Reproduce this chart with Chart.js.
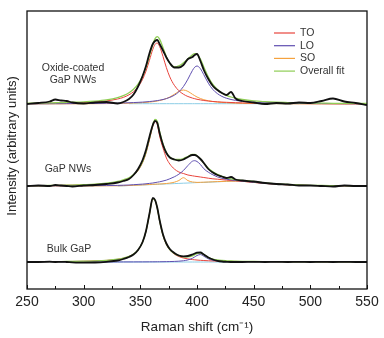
<!DOCTYPE html>
<html>
<head>
<meta charset="utf-8">
<script src="https://cdn.jsdelivr.net/npm/chart.js@4"></script>
<style>
  html, body { margin: 0; padding: 0; background: #fff; }
  #wrap { width: 384px; height: 338px; }
</style>
</head>
<body>
<div id="wrap"><canvas id="c"></canvas></div>
<script>
// Raman shift grid (cm-1), shared by every curve
const ramanShift = [250,260,270,275,280,285,290,300,310,320,330,335,340,344,348,352,355,358,361,363,365,367,370,373,376,380,384,388,392,396,398,400,403,406,410,414,418,422,426,430,434,440,450,460,470,480,490,500,510,520,530,540,550];

// vertical offsets of the three stacked spectra (arbitrary units)
const offsetOxide = 185;
const offsetNW = 103;
const offsetBulk = 27;

// Oxide-coated GaP NWs
const oxideData = [0,1,2.5,4.5,3.5,3,1.5, 0.5,1.5,2,0.5,2, 5,9.5,17.5,28,38, 50.5,60,63,64,60, 53.5,46.5,41,36.5,36.5, 39,45,47,49, 50,43,34,25, 18,14,11,9,12, 5.5,3,1.5,0,1, 0.5,1.5,1,3,5.5, 2.5,1,-1];
const oxideTO = [0.5,0.6,0.7,0.8,0.9,1.0,1.1, 1.5,2.1,3.1,5.0,6.6, 9.2,12.3,17.1,24.7,33, 43.6,54.7,59.7,60.9,57.6, 47.5,36.3,27.1,18.7,13.3, 9.8,7.5,5.9,5.3, 4.7,4.1,3.5,3.0, 2.5,2.2,1.9,1.7,1.5, 1.3,1.1,0.9,0.7,0.6, 0.5,0.4,0.35,0.3,0.25, 0.2,0.2,0.2];
const oxideLO = [0.2,0.2,0.25,0.3,0.3,0.35,0.4, 0.45,0.55,0.7,0.9,1.05, 1.25,1.45,1.65,1.9,2.15, 2.45,2.8,3.1,3.4,3.8, 4.5,5.4,6.6,8.8,12.2, 17.4,24.9,33.6,36.8, 38,35.3,29.3,20.8, 14.5,10.4,7.6,5.75,4.5, 3.6,2.7,1.75,1.25,0.9, 0.7,0.55,0.45,0.4,0.35, 0.3,0.25,0.2];
const oxideSO = [0.1,0.1,0.15,0.15,0.15,0.2,0.2, 0.25,0.3,0.4,0.55,0.7, 0.8,1.0,1.15,1.4,1.6, 1.9,2.3,2.6,3.0,3.5, 4.3,5.5,7.0,9.7,12.6, 14,12.6,9.7,8.3, 7.0,5.5,4.3,3.2, 2.5,1.9,1.55,1.3,1.05, 0.9,0.7,0.5,0.4,0.3, 0.25,0.2,0.15,0.15,0.1, 0.1,0.1,0.1];
const oxideFit = [0.8,0.9,1.1,1.25,1.35,1.55,1.75, 2.2,2.95,4.2,6.45,8.35, 11.25,14.75,19.9,28.0,36.75, 47.95,59.8,65.4,67.3,64.9, 56.3,47.2,40.7,37.2,38.1, 41.2,45.0,49.2,50.4, 49.7,44.9,37.1,27.0, 19.5,14.5,11.05,8.7,7.0, 5.8,4.5,3.1,2.35,1.8, 1.45,1.15,0.95,0.85,0.7, 0.65,0.55,0.5];
const oxideBase = [null,null,null,null,null,null,null, null,null,null,null,null, 0.3,0.3,0.3,0.3,0.3, 0.3,0.3,0.3,0.3,0.3, 0.3,0.3,0.3,0.3,0.3, 0.3,0.3,0.3,0.3, 0.3,0.3,0.3,0.3, 0.3,0.3,0.3,0.3,0.3, 0.3,0.3,0.3,0.3,0.3, 0.3,0.3,null,null,null, null,null,null];

// GaP NWs
const nwData = [0,0.5,0,1,0.5,0,-0.5, 0.5,1,2,3.5,5, 7,11,17,26,36, 49,61,65,63,53, 41,33,28.5,26.5,25.5, 26.5,29,31,31, 30,27,23,17, 13.5,11,9.5,8,9, 6.5,5.5,4.5,3,2, 1.5,0.5,0.5,0,-0.5, 0.5,0,0];
const nwTO = [0.35,0.4,0.5,0.6,0.65,0.75,0.85, 1.1,1.55,2.3,3.8,5.4, 7.8,10.8,15.5,23.5,32.8, 46,59.6,64.5,61.5,50, 38,28,22,17,14, 12.5,11,10.2,9.8, 9.5,9,8.5,7.8, 7.2,6.8,6.3,5.9,5.5, 5.2,4.7,3.6,2.6,1.8, 1.2,0.8,0.5,0.4,0.3, 0.2,0.15,0.1];
const nwLO = [0.1,0.1,0.15,0.15,0.2,0.2,0.2, 0.3,0.35,0.45,0.6,0.8, 1.0,1.3,1.6,1.9,2.2, 2.6,3.0,3.4,3.8,4.2, 5.0,5.9,7.2,9.2,11.8, 15.5,20.5,24.8,25.3, 24.5,21.5,17.3,13.8, 11.2,9.1,7.7,6.8,6.1, 5.5,4.9,3.7,2.6,1.8, 1.2,0.8,0.5,0.4,0.3, 0.2,0.15,0.1];
const nwSO = [0,0,0,0,0,0,0, 0.05,0.1,0.15,0.2,0.3, 0.5,0.7,0.9,1.1,1.3, 1.5,1.7,1.8,1.9,2.0, 2.2,2.5,2.9,3.8,5.5, 8.3,5.4,4.0,3.8, 3.6,3.7,3.8,4.0, 4.2,4.4,4.5,4.7,4.8, 4.9,4.7,3.6,2.6,1.8, 1.2,0.8,0.5,0.4,0.3, 0.2,0.15,0.1];
const nwFit = [0.3,0.4,0.5,0.6,0.7,0.8,0.9, 1.3,1.8,2.8,4.6,6.2, 8.3,11.4,16.2,24.3,33.9, 47.5,61.3,66.5,64.5,54.5, 42,33.5,29,26.5,26.5, 27.5,29.5,31.5,31.5, 30.3,27.2,22.8,17.8, 14.2,11.6,9.7,8.2,7.2, 6.4,5.6,4.5,3.2,2.2, 1.5,1.0,0.7,0.5,0.4, 0.3,0.2,0.2];
const nwBase = [null,null,null,null,null,null,null, null,null,null,0,0.2, 0.5,0.7,0.9,1.1,1.2, 1.3,1.5,1.6,1.7,1.8, 1.9,2.1,2.2,2.4,2.6, 2.8,3.0,3.2,3.3, 3.4,3.5,3.6,3.8, 4.0,4.2,4.4,4.6,4.8, 5.0,null,null,null,null, null,null,null,null,null, null,null,null];

// Bulk GaP
const bulkData = [0,0,0.3,0,0.2,0,-0.3, -0.6,-0.5,0.2,1.5,3, 5,7.5,12,20,31, 48,64,62,54,42, 27.5,18.5,13,9,6.5, 5.7,6,7.5,8.5, 9.3,9.5,7.5,4.5, 2.5,1.2,0.5,0.2,0, 0,0,0.2,0,0.2, 0,0.1,0,0.2,0, 0.1,0,0];
const bulkTO = [0.23,0.28,0.34,0.38,0.43,0.49,0.56, 0.75,1.05,1.6,2.7,3.8, 5.5,7.9,12,20,30.8, 47.4,63,61.5,53.4,41.3, 26.6,17.5,12.1,7.9,5.5, 4.0,3.1,2.4,2.2, 1.96,1.7,1.47,1.24, 1.06,0.92,0.8,0.7,0.62, 0.56,0.48,0.37,0.3,0.25, 0.2,0.17,0.15,0.13,0.11, 0.1,0.09,0.08];
const bulkLO = [0.04,0.04,0.04,0.04,0.04,0.04,0.04, 0.04,0.05,0.05,0.06,0.07, 0.08,0.09,0.11,0.12,0.14, 0.16,0.18,0.2,0.22,0.25, 0.29,0.35,0.43,0.58,0.82, 1.25,2.1,3.75,5.1, 6.5,7.45,5.8,3.2, 1.8,1.1,0.75,0.53,0.4, 0.31,0.22,0.14,0.1,0.08, 0.07,0.06,0.05,0.05,0.04, 0.04,0.04,0.04];
const bulkFit = [0.27,0.32,0.38,0.42,0.47,0.53,0.6, 0.8,1.1,1.65,2.75,3.9, 5.6,8.0,12.1,20.1,30.9, 47.6,63.2,61.7,53.6,41.5, 26.9,17.9,12.5,8.5,6.3, 5.25,5.2,6.15,7.3, 8.45,9.15,7.3,4.45, 2.85,2.0,1.55,1.25,1.0, 0.87,0.7,0.5,0.4,0.33, 0.27,0.23,0.2,0.17,0.15, 0.13,0.12,0.1];
const bulkBase = [null,null,null,null,null,null,null, 0,0,0,0,0, 0,0,0,0,0, 0,0,0,0,0, 0,0,0,0,0, 0,0,0,0, 0,0,0,0, 0,0,0,0,0, 0,null,null,null,null, null,null,null,null,null, null,null,null];

const legendLabels = ['TO', 'LO', 'SO', 'Overall fit'];
const sampleLabels = [['Oxide-coated', 'GaP NWs'], ['GaP NWs'], ['Bulk GaP']];

const colTO = '#e8433b';
const colLO = '#5f4fb0';
const colSO = '#f5a23e';
const colFit = '#8fcd55';
const colBase = '#8ccde6';
const colData = '#111111';
const fontFamily = "'Liberation Sans', Arial, sans-serif";

// turn a value list into points, shifted up by the spectrum offset
function toPoints(values, offset) {
    return values.map((v, i) => ({ x: ramanShift[i], y: v === null ? null : v + offset }));
}

function line(values, offset, color, width, order) {
    return {
        data: toPoints(values, offset),
        borderColor: color,
        borderWidth: width,
        pointRadius: 0,
        cubicInterpolationMode: 'monotone',
        fill: false,
        spanGaps: false,
        order: order
    };
}

let datasets = [];
[[oxideData, oxideTO, oxideLO, oxideSO, oxideFit, oxideBase, offsetOxide],
 [nwData, nwTO, nwLO, nwSO, nwFit, nwBase, offsetNW],
 [bulkData, bulkTO, bulkLO, null, bulkFit, bulkBase, offsetBulk]].forEach((s) => {
    const off = s[6];
    datasets.push(line(s[5], off, colBase, 1, 5));
    if (s[3]) datasets.push(line(s[3], off, colSO, 1, 4));
    datasets.push(line(s[2], off, colLO, 1, 3));
    datasets.push(line(s[1], off, colTO, 1, 3));
    datasets.push(line(s[4], off, colFit, 1.3, 2));
    datasets.push(line(s[0], off, colData, 1.8, 1));
});

// frame, inward ticks, legend, y title and sample labels
const decorations = {
    id: 'decorations',
    afterDraw(chart) {
        const ctx = chart.ctx;
        const a = chart.chartArea;
        const xs = chart.scales.x;
        ctx.save();
        ctx.strokeStyle = '#111';
        ctx.lineWidth = 1.3;
        ctx.strokeRect(a.left, a.top, a.right - a.left, a.bottom - a.top);

        // inward tick marks on the bottom axis
        ctx.lineWidth = 1;
        for (let v = 250; v <= 550; v += 25) {
            const x = Math.round(xs.getPixelForValue(v)) + 0.5;
            const len = v % 50 === 0 ? 4 : 3;
            ctx.beginPath();
            ctx.moveTo(x, a.bottom);
            ctx.lineTo(x, a.bottom - len);
            ctx.stroke();
        }

        // y axis title
        ctx.fillStyle = '#222';
        ctx.font = '13px ' + fontFamily;
        ctx.textAlign = 'center';
        ctx.textBaseline = 'middle';
        ctx.save();
        ctx.translate(12, 146);
        ctx.rotate(-Math.PI / 2);
        ctx.fillText('Intensity (arbitrary units)', 0, 0);
        ctx.restore();

        // legend
        const legendColors = [colTO, colLO, colSO, colFit];
        ctx.font = '10.5px ' + fontFamily;
        ctx.textAlign = 'left';
        legendLabels.forEach((lab, i) => {
            const y = 33 + i * 12.7;
            ctx.strokeStyle = legendColors[i];
            ctx.lineWidth = 1.2;
            ctx.beginPath();
            ctx.moveTo(274, y);
            ctx.lineTo(295, y);
            ctx.stroke();
            ctx.fillStyle = '#333';
            ctx.fillText(lab, 300, y);
        });

        // sample names
        ctx.textAlign = 'center';
        ctx.fillText(sampleLabels[0][0], 73, 68);
        ctx.fillText(sampleLabels[0][1], 73, 80);
        ctx.fillText(sampleLabels[1][0], 68, 169);
        ctx.fillText(sampleLabels[2][0], 69, 249);
        ctx.restore();
    }
};

new Chart(document.getElementById('c'), {
    type: 'line',
    data: { datasets: datasets },
    plugins: [decorations],
    options: {
        responsive: true,
        maintainAspectRatio: false,
        animation: false,
        devicePixelRatio: 1,
        layout: { padding: { left: 27, right: 17, top: 11, bottom: 0 } },
        plugins: {
            legend: { display: false },
            tooltip: { enabled: false }
        },
        scales: {
            x: {
                type: 'linear',
                min: 250,
                max: 550,
                grid: { display: false, drawTicks: false },
                border: { display: false },
                ticks: {
                    stepSize: 50,
                    padding: 4.5,
                    maxRotation: 0,
                    color: '#222',
                    font: { size: 14, family: fontFamily }
                },
                title: {
                    display: true,
                    text: 'Raman shift (cm\u207B\u00B9)',
                    color: '#222',
                    font: { size: 13.5, family: fontFamily },
                    padding: { top: 3, bottom: 3 }
                },
                afterFit: function (scale) {
                    scale.height = 49;
                }
            },
            y: {
                display: false,
                min: 0,
                max: 278
            }
        }
    }
});
</script>
</body>
</html>
